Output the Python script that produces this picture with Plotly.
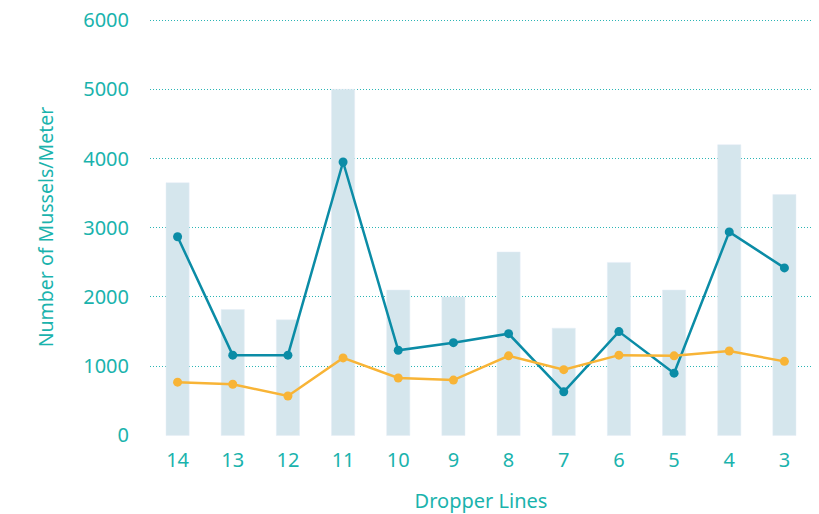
import plotly.graph_objects as go

categories = ["14", "13", "12", "11", "10", "9", "8", "7", "6", "5", "4", "3"]
bar_values = [3650, 1820, 1670, 5000, 2100, 2000, 2650, 1550, 2500, 2100, 4200, 3480]
blue_values = [2870, 1160, 1160, 3950, 1230, 1340, 1470, 630, 1500, 900, 2940, 2420]
orange_values = [770, 740, 570, 1120, 830, 800, 1150, 950, 1160, 1150, 1220, 1070]
y_ticks = [0, 1000, 2000, 3000, 4000, 5000, 6000]

TEAL = "#1ab3ad"
fig = go.Figure()
fig.add_trace(go.Bar(x=categories, y=bar_values, marker_color="#d5e6ed",
                     width=0.42, showlegend=False))
fig.add_trace(go.Scatter(x=categories, y=blue_values, mode="lines+markers",
                         line=dict(color="#0b8ca6", width=2.5),
                         marker=dict(size=9, color="#0b8ca6"), showlegend=False))
fig.add_trace(go.Scatter(x=categories, y=orange_values, mode="lines+markers",
                         line=dict(color="#f8b436", width=2.5),
                         marker=dict(size=9, color="#f8b436"), showlegend=False))

fig.update_layout(
    width=811, height=506,
    margin=dict(l=142, r=7, t=10, b=78),
    paper_bgcolor="white", plot_bgcolor="white",
    font=dict(family="Noto Sans", color=TEAL, size=20),
    showlegend=False,
)
fig.update_xaxes(
    type="category", range=[-0.5, 11.5], showgrid=False, zeroline=False,
    showline=False, ticks="", tickfont=dict(size=20, color=TEAL),
    ticklabelstandoff=10, automargin=False,
    title=dict(text="Dropper Lines", font=dict(size=20, color=TEAL), standoff=22),
)
fig.update_yaxes(
    range=[-8, 6030], tickvals=y_ticks, showgrid=True,
    gridcolor="#2bb5b5", griddash="1px,2px", gridwidth=1,
    zeroline=False, showline=False, ticks="",
    ticklabelstandoff=20, ticklabeloverflow="allow", automargin=False,
    tickfont=dict(size=20, color=TEAL),
    title=dict(text="Number of Mussels/Meter", font=dict(size=19.5, color=TEAL), standoff=24),
)
fig.write_html("out.html")
